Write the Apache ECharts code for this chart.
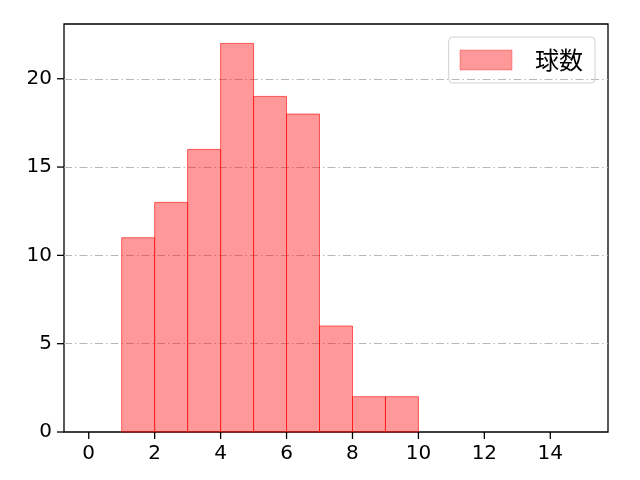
<!DOCTYPE html>
<html><head><meta charset="utf-8">
<script src="https://cdn.jsdelivr.net/npm/echarts@6/dist/echarts.min.js"></script>
<style>html,body{margin:0;padding:0;background:#fff}#c{width:640px;height:480px}</style>
</head><body><div id="c"></div>
<script>
const binStarts = [1,2,3,4,5,6,7,8,9];
const binWidth = 1;
const counts = [11,13,16,22,19,18,6,2,2];
const xTicks = [0,2,4,6,8,10,12,14];
const yTicks = [0,5,10,15,20];
const xRange = [-0.75, 15.75];
const yRange = [0, 23.1];
const seriesName = '球数';

const data = binStarts.map((s,i)=>[s, s+binWidth, counts[i]]);
const chart = echarts.init(document.getElementById('c'));
const cjk = '"Noto Sans CJK JP", sans-serif';
const num = '"DejaVu Sans", sans-serif';
const TICK = 7;
chart.setOption({
  animation:false,
  grid:{left:64,right:32,top:24,bottom:48,show:true,borderColor:'#000',borderWidth:1.3,backgroundColor:'transparent'},
  legend:{
    show:true, right:45, top:37, orient:'vertical',
    data:[{name:seriesName, icon:'rect', itemStyle:{borderWidth:0.6, borderColor:'rgba(255,0,0,0.5)'}}],
    itemWidth:52, itemHeight:20,
    padding:[11,12,11,11],
    borderColor:'#d0d0d0', borderWidth:1, borderRadius:4,
    textStyle:{fontFamily:cjk,fontSize:24,color:'#000',padding:[0,0,0,18]},
  },
  xAxis:{type:'value',min:xRange[0],max:xRange[1],
    axisLine:{show:false,onZero:false},
    splitLine:{show:false},
    axisTick:{show:false},
    axisLabel:{fontFamily:num,fontSize:20,color:'#000',margin:TICK+5,customValues:xTicks}
  },
  yAxis:{type:'value',min:yRange[0],max:yRange[1],interval:5,
    axisLine:{show:false,onZero:false},
    splitLine:{show:true,showMinLine:false,showMaxLine:false,lineStyle:{color:'#b0b0b0',width:0.9,type:[8,3,1.5,3]}},
    axisTick:{show:false},
    axisLabel:{fontFamily:num,fontSize:20,color:'#000',margin:TICK+5,customValues:yTicks}
  },
  series:[{
    name:seriesName,type:'custom',
    itemStyle:{color:'rgba(255,0,0,0.4)',borderColor:'rgba(255,0,0,0.6)',borderWidth:1},
    encode:{x:[0,1],y:2},
    data:data,
    z:2,
    renderItem:function(params,api){
      const p0 = api.coord([api.value(0), api.value(2)]);
      const p1 = api.coord([api.value(1), 0]);
      return {type:'rect',shape:{x:p0[0],y:p0[1],width:p1[0]-p0[0],height:p1[1]-p0[1]},
        style:{fill:'rgba(255,0,0,0.4)',stroke:'rgba(255,0,0,0.6)',lineWidth:1}};
    }
  },{
    name:'xticks',type:'custom',clip:false,silent:true,z:5,
    data:xTicks.map(v=>[v,yRange[0]]),
    encode:{x:0,y:1},
    renderItem:function(params,api){
      const p = api.coord([api.value(0), api.value(1)]);
      return {type:'line',shape:{x1:p[0],y1:p[1],x2:p[0],y2:p[1]+TICK},style:{stroke:'#000',lineWidth:1.3}};
    }
  },{
    name:'yticks',type:'custom',clip:false,silent:true,z:5,
    data:yTicks.map(v=>[xRange[0],v]),
    encode:{x:0,y:1},
    renderItem:function(params,api){
      const p = api.coord([api.value(0), api.value(1)]);
      return {type:'line',shape:{x1:p[0],y1:p[1],x2:p[0]-TICK,y2:p[1]},style:{stroke:'#000',lineWidth:1.3}};
    }
  }]
});
</script></body></html>
